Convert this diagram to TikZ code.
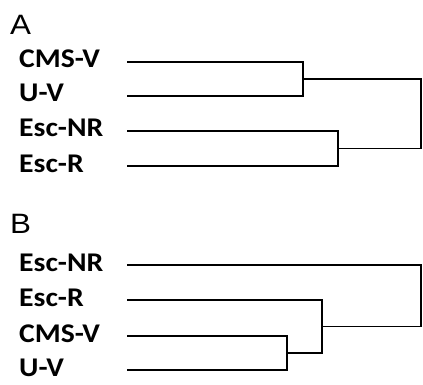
\documentclass[tikz,border=0pt]{standalone}
\usepackage{fontspec}
\newfontfamily\lblfont{Carlito}
\newfontfamily\panelfont{Liberation Sans}
\begin{document}
\begin{tikzpicture}[x=1pt,y=-1pt,
  leaf/.style={anchor=base west,inner sep=0pt,font=\lblfont\bfseries\fontsize{27}{27}\selectfont},
  panel/.style={anchor=base west,inner sep=0pt,font=\panelfont\fontsize{28}{28}\selectfont},
  branch/.style={line width=1.6pt,line cap=rect,line join=miter}]
\useasboundingbox (0,0) rectangle (423,385);
% Panel A
\node[panel] (pA) at (10,35) {\scalebox{1.12}[1]{A}};
\node[leaf] (a1) at (19,68) {\scalebox{1.1}[1]{CMS-V}};
\node[leaf] (a2) at (19,102) {\scalebox{1.1}[1]{U-V}};
\node[leaf] (a3) at (19,137) {\scalebox{1.1}[1]{Esc-NR}};
\node[leaf] (a4) at (19,172) {\scalebox{1.1}[1]{Esc-R}};
\coordinate (la1) at (128,62);
\coordinate (la2) at (128,96);
\coordinate (la3) at (128,131);
\coordinate (la4) at (128,166);
\coordinate (ja1) at (303,79);
\coordinate (ja2) at (338,148.5);
\coordinate (ra) at (421,114);
\draw[branch] (la1) -| (ja1) |- (la2);
\draw[branch] (la3) -| (ja2) |- (la4);
\draw[branch] (ja1) -| (ra) |- (ja2);
% Panel B
\node[panel] (pB) at (10,233) {\scalebox{1.12}[1]{B}};
\node[leaf] (b1) at (19,271) {\scalebox{1.1}[1]{Esc-NR}};
\node[leaf] (b2) at (19,306) {\scalebox{1.1}[1]{Esc-R}};
\node[leaf] (b3) at (19,342) {\scalebox{1.1}[1]{CMS-V}};
\node[leaf] (b4) at (19,376) {\scalebox{1.1}[1]{U-V}};
\coordinate (lb1) at (128,265);
\coordinate (lb2) at (128,300);
\coordinate (lb3) at (128,336);
\coordinate (lb4) at (128,370);
\coordinate (jb1) at (287,353);
\coordinate (jb2) at (322,326.5);
\coordinate (rb) at (421,296);
\draw[branch] (lb3) -| (jb1) |- (lb4);
\draw[branch] (lb2) -| (jb2) |- (jb1);
\draw[branch] (lb1) -| (rb) |- (jb2);
\end{tikzpicture}
\end{document}
